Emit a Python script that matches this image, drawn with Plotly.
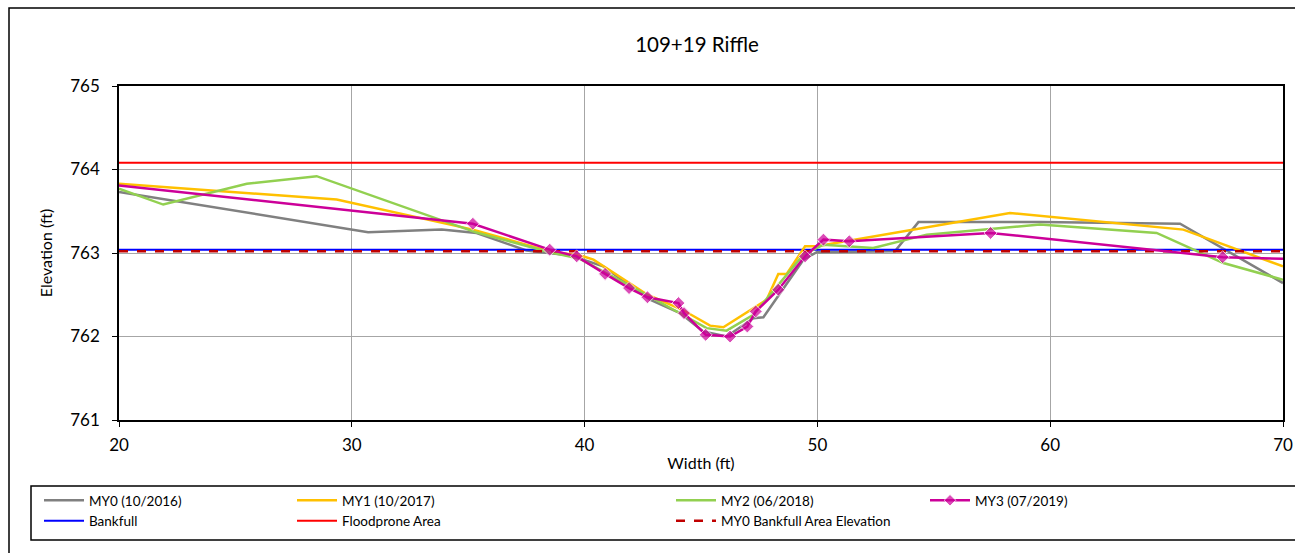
import plotly.graph_objects as go

# ---------------- data ----------------
my0_x = [20, 30.7, 33.86, 35.36, 37.5, 38.5, 39.4, 40.8, 42.81, 44.1, 45.1, 46.1, 47.25, 47.68, 49.4, 49.97, 53.33, 54.34, 59.56, 65.58, 70]
my0_y = [763.73, 763.25, 763.28, 763.24, 763.03, 763.0, 762.97, 762.84, 762.44, 762.28, 762.06, 762.0, 762.22, 762.23, 762.92, 763.01, 763.02, 763.37, 763.37, 763.35, 762.64]

my1_x = [20, 29.35, 35.2, 38.5, 39.93, 40.38, 42.7, 44.2, 45.39, 45.96, 47.82, 48.32, 48.68, 49.47, 49.97, 58.27, 65.72, 70]
my1_y = [763.83, 763.64, 763.28, 763.02, 762.96, 762.92, 762.5, 762.32, 762.13, 762.11, 762.44, 762.75, 762.75, 763.08, 763.08, 763.48, 763.28, 762.84]

my2_x = [20, 21.9, 25.49, 28.49, 35.3, 38.5, 39.8, 42.66, 45.24, 46.1, 47.25, 49.4, 50.26, 52.4, 54.69, 59.56, 64.57, 67.44, 70]
my2_y = [763.77, 763.58, 763.83, 763.92, 763.25, 763.01, 762.93, 762.5, 762.1, 762.07, 762.26, 762.98, 763.1, 763.06, 763.22, 763.34, 763.24, 762.88, 762.68]

my3_x = [20, 35.2, 38.5, 39.66, 40.88, 41.91, 42.7, 44.03, 44.27, 45.2, 46.25, 46.99, 47.35, 48.32, 49.47, 50.26, 51.37, 57.44, 67.41, 70]
my3_y = [763.81, 763.35, 763.04, 762.96, 762.75, 762.58, 762.47, 762.4, 762.28, 762.02, 762.0, 762.12, 762.3, 762.56, 762.96, 763.16, 763.14, 763.24, 762.95, 762.93]

line_x = [20, 70]
bankfull_elev = 763.04
floodprone_elev = 764.08
my0_bankfull_area_elev = 763.02

x_ticks = [20, 30, 40, 50, 60, 70]
y_ticks = [761, 762, 763, 764, 765]

title_text = "109+19 Riffle"

# ---------------- layout helpers ----------------
W, H = 1295, 553
# target plot area in page pixels: x 119..1283, y 86..420
L, T = 119, 86
R = W - 1283
B = H - 420
PW, PH = W - L - R, H - T - B


def px_x(p):
    return (p - L) / PW


def px_y(p):
    return (H - B - p) / PH


FONT = "Lato, 'Open Sans', sans-serif"

fig = go.Figure()

fig.add_trace(go.Scatter(x=my0_x, y=my0_y, mode="lines", name="MY0 (10/2016)",
                         line=dict(color="#808080", width=2.5), legend="legend"))
fig.add_trace(go.Scatter(x=line_x, y=[bankfull_elev] * 2, mode="lines", name="Bankfull",
                         line=dict(color="#0000FF", width=2), legend="legend"))
fig.add_trace(go.Scatter(x=my1_x, y=my1_y, mode="lines", name="MY1 (10/2017)",
                         line=dict(color="#FFC000", width=2.5), legend="legend2"))
fig.add_trace(go.Scatter(x=line_x, y=[floodprone_elev] * 2, mode="lines", name="Floodprone Area",
                         line=dict(color="#FF0000", width=2), legend="legend2"))
fig.add_trace(go.Scatter(x=my2_x, y=my2_y, mode="lines", name="MY2 (06/2018)",
                         line=dict(color="#92D050", width=2.5), legend="legend3"))
fig.add_trace(go.Scatter(x=line_x, y=[my0_bankfull_area_elev] * 2, mode="lines",
                         name="MY0 Bankfull Area Elevation",
                         line=dict(color="#C00000", width=2.5, dash="dash"), legend="legend3"))
msizes = [0] + [10] * (len(my3_x) - 2) + [0]
fig.add_trace(go.Scatter(x=my3_x, y=my3_y, mode="lines+markers", name="MY3 (07/2019)",
                         line=dict(color="#CC0099", width=2.5),
                         marker=dict(symbol="diamond", size=msizes, color="#CC0099"),
                         legend="legend4"))

axis_common = dict(showline=True, linecolor="black", linewidth=1.5, mirror=True,
                   ticks="outside", ticklen=5, tickcolor="black",
                   showgrid=True, gridcolor="#A6A6A6", gridwidth=1, zeroline=False,
                   tickfont=dict(family=FONT, size=17, color="black"))

fig.update_xaxes(range=[20, 70], tickvals=x_ticks, ticklabelstandoff=4,
                 title=dict(text="Width (ft)", font=dict(family=FONT, size=16, color="black"), standoff=4),
                 **axis_common)
fig.update_yaxes(range=[761, 765], tickvals=y_ticks, ticklabelstandoff=9,
                 title=dict(text="Elevation (ft)", font=dict(family=FONT, size=16, color="black"), standoff=14),
                 **axis_common)

leg_common = dict(orientation="v", yanchor="top", xanchor="left", bgcolor="rgba(0,0,0,0)",
                  borderwidth=0, font=dict(family=FONT, size=13.5, color="black"),
                  traceorder="normal", tracegroupgap=0, itemwidth=40)
leg_top = px_y(485)
fig.update_layout(
    legend=dict(x=px_x(39), y=leg_top, **leg_common),
    legend2=dict(x=px_x(292), y=leg_top, **leg_common),
    legend3=dict(x=px_x(671), y=leg_top, **leg_common),
    legend4=dict(x=px_x(925), y=leg_top, **leg_common),
)

shapes = [
    # outer chart border
    dict(type="rect", xref="paper", yref="paper", x0=px_x(9), y0=px_y(8), x1=px_x(1320), y1=px_y(580),
         line=dict(color="black", width=1.5), fillcolor="rgba(0,0,0,0)", layer="below"),
    # legend box
    dict(type="rect", xref="paper", yref="paper", x0=px_x(31), y0=px_y(486), x1=px_x(1320), y1=px_y(540),
         line=dict(color="black", width=1.5), fillcolor="rgba(0,0,0,0)", layer="below"),
]

fig.update_layout(
    width=W, height=H,
    margin=dict(l=L, r=R, t=T, b=B, autoexpand=False),
    paper_bgcolor="white", plot_bgcolor="white",
    title=dict(text=title_text, x=697 / W, xanchor="center", y=1 - 45 / H, yanchor="middle",
               font=dict(family=FONT, size=20.5, color="black")),
    shapes=shapes,
    showlegend=True,
    font=dict(family=FONT, color="black"),
)

fig.write_html("out.html", config={"displayModeBar": False},
               post_script="document.body.style.margin='0';document.body.style.overflow='hidden';")
